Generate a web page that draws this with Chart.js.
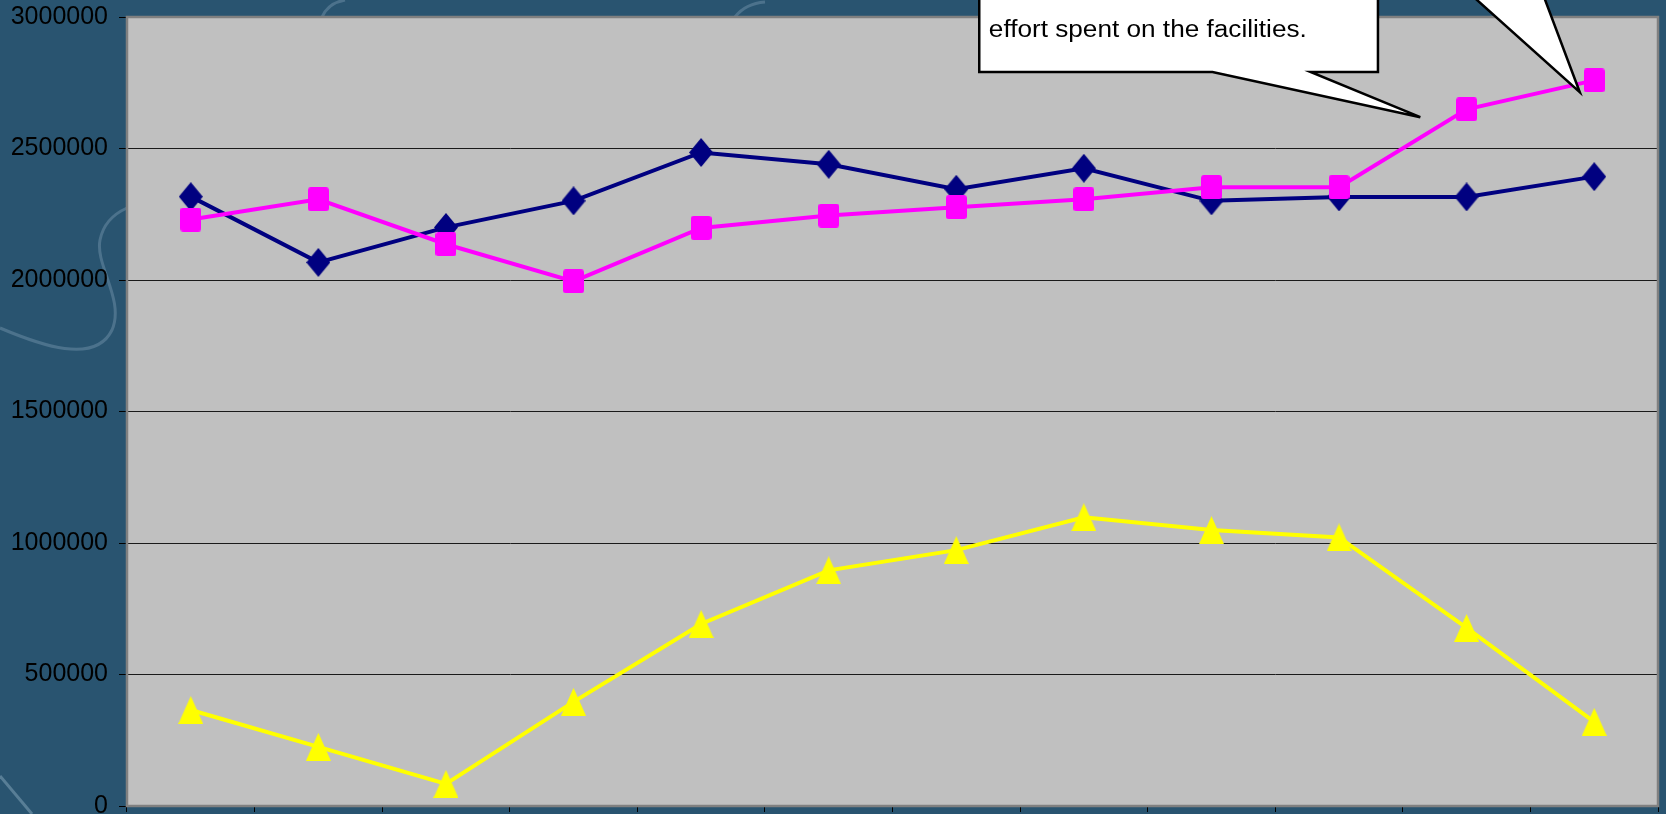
<!DOCTYPE html>
<html>
<head>
<meta charset="utf-8">
<title>Line chart</title>
<script src="https://cdn.jsdelivr.net/npm/chart.js@4.4.1/dist/chart.umd.min.js"></script>
<style>
  html, body { margin: 0; padding: 0; background: #295470; overflow: hidden; }
  #wrap { position: relative; width: 1666px; height: 814px; }
</style>
</head>
<body>
<div id="wrap"><canvas id="myChart" width="1666" height="814"></canvas></div>
<script>
const categories = ['1', '2', '3', '4', '5', '6', '7', '8', '9', '10', '11', '12'];
const series1 = [2317000, 2067000, 2200000, 2301000, 2485000, 2440000, 2345000, 2425000, 2301000, 2316000, 2316000, 2393000];
const series2 = [2230000, 2307000, 2136000, 1995000, 2198000, 2245000, 2277000, 2307000, 2353000, 2353000, 2649000, 2759000];
const series3 = [365000, 225000, 84000, 396000, 692000, 896000, 973000, 1098000, 1049000, 1021000, 677000, 320000];
const yTicks = [0, 500000, 1000000, 1500000, 2000000, 2500000, 3000000];
const noteText = 'effort spent on the facilities.';

// marker images, slightly taller than wide
function marker(w, h, color, trace) {
  let c = document.createElement('canvas');
  c.width = w;
  c.height = h;
  let g = c.getContext('2d');
  g.fillStyle = color;
  g.beginPath();
  trace(g, w, h);
  g.closePath();
  g.fill();
  return c;
}

let diamond = marker(24, 29, '#000080', function (g, w, h) {
  g.moveTo(w / 2, 0); g.lineTo(w, h / 2); g.lineTo(w / 2, h); g.lineTo(0, h / 2);
});
let square = marker(21, 24, '#FF00FF', function (g, w, h) {
  g.roundRect(0, 0, w, h, 3);
});
let triangle = marker(25, 28, '#FFFF00', function (g, w, h) {
  g.moveTo(w / 2, 0); g.lineTo(w, h); g.lineTo(0, h);
});

// dark backdrop with a few faint swirls, silver plot area
const backdrop = {
  id: 'backdrop',
  beforeDraw(chart) {
    let ctx = chart.ctx;
    let a = chart.chartArea;
    ctx.save();
    ctx.fillStyle = '#295470';
    ctx.fillRect(0, 0, chart.width, chart.height);

    ctx.strokeStyle = 'rgba(200, 225, 240, 0.22)';
    ctx.lineWidth = 3;
    ctx.beginPath();
    ctx.moveTo(0, 328);
    ctx.bezierCurveTo(40, 345, 95, 365, 112, 330);
    ctx.bezierCurveTo(125, 300, 95, 265, 100, 240);
    ctx.bezierCurveTo(104, 220, 118, 212, 127, 208);
    ctx.stroke();

    ctx.beginPath();
    ctx.moveTo(322, 17);
    ctx.bezierCurveTo(326, 8, 334, 2, 345, 0);
    ctx.stroke();
    ctx.beginPath();
    ctx.moveTo(735, 17);
    ctx.bezierCurveTo(742, 8, 752, 3, 765, 2);
    ctx.stroke();

    ctx.strokeStyle = 'rgba(200, 225, 240, 0.3)';
    ctx.beginPath();
    ctx.moveTo(0, 776);
    ctx.lineTo(32, 814);
    ctx.stroke();

    ctx.fillStyle = '#C0C0C0';
    ctx.fillRect(a.left, a.top, a.right - a.left, a.bottom - a.top);
    ctx.restore();
  },
  beforeDatasetsDraw(chart) {
    let ctx = chart.ctx;
    let a = chart.chartArea;
    ctx.save();
    ctx.strokeStyle = '#808080';
    ctx.lineWidth = 2.5;
    ctx.strokeRect(a.left, a.top, a.right - a.left, a.bottom - a.top);
    ctx.restore();
  }
};

// speech-bubble notes laid out on the chart's own scales
const notes = {
  id: 'notes',
  afterDatasetsDraw(chart) {
    let ctx = chart.ctx;
    let xs = chart.scales.x;
    let ys = chart.scales.y;
    let step = xs.getPixelForValue(1) - xs.getPixelForValue(0);
    let px = function (i) { return xs.getPixelForValue(0) + i * step; };
    let py = function (v) { return ys.getPixelForValue(v); };

    ctx.save();
    ctx.fillStyle = '#FFFFFF';
    ctx.strokeStyle = '#000000';
    ctx.lineWidth = 2.5;
    ctx.lineJoin = 'miter';

    ctx.beginPath();
    ctx.moveTo(px(6.18), py(3300000));
    ctx.lineTo(px(6.18), py(2791000));
    ctx.lineTo(px(8.008), py(2791000));
    ctx.lineTo(px(9.637), py(2619000));
    ctx.lineTo(px(8.777), py(2791000));
    ctx.lineTo(px(9.305), py(2791000));
    ctx.lineTo(px(9.305), py(3300000));
    ctx.closePath();
    ctx.fill();
    ctx.stroke();

    ctx.beginPath();
    ctx.moveTo(px(10.0), py(3100000));
    ctx.lineTo(px(10.887), py(2714000));
    ctx.lineTo(px(10.588), py(3100000));
    ctx.closePath();
    ctx.fill();
    ctx.stroke();

    ctx.fillStyle = '#000000';
    ctx.font = '23px "Liberation Sans", Arial, sans-serif';
    ctx.textBaseline = 'alphabetic';
    let tx = px(6.255);
    let w = ctx.measureText(noteText).width;
    ctx.translate(tx, py(2924000));
    ctx.scale(318 / w, 1);
    ctx.fillText(noteText, 0, 0);
    ctx.restore();
  }
};

let ctx = document.getElementById('myChart');
let myChart = new Chart(ctx, {
  type: 'line',
  data: {
    labels: categories,
    datasets: [
      {
        label: 'Series 1',
        data: series1,
        borderColor: '#000080',
        borderWidth: 4,
        pointStyle: diamond,
        order: 3
      },
      {
        label: 'Series 2',
        data: series2,
        borderColor: '#FF00FF',
        borderWidth: 4,
        pointStyle: square,
        order: 2
      },
      {
        label: 'Series 3',
        data: series3,
        borderColor: '#FFFF00',
        borderWidth: 4,
        pointStyle: triangle,
        order: 1
      }
    ]
  },
  options: {
    responsive: false,
    animation: false,
    devicePixelRatio: 1,
    tension: 0,
    layout: { padding: { left: 0, top: 17, right: 3, bottom: 0 } },
    plugins: {
      legend: { display: false },
      tooltip: { enabled: false }
    },
    scales: {
      x: {
        offset: true,
        grid: {
          offset: true,
          drawOnChartArea: false,
          tickLength: 6,
          tickColor: '#000000'
        },
        border: { display: true, color: '#808080', width: 2 },
        ticks: { display: false },
        afterFit(scale) {
          scale.height = 6;
          scale.paddingLeft = 0;
          scale.paddingRight = 0;
        }
      },
      y: {
        min: 0,
        max: 3000000,
        afterBuildTicks(scale) {
          scale.ticks = yTicks.map(function (v) { return { value: v }; });
        },
        grid: {
          color: '#1a1a1a',
          lineWidth: 1,
          tickLength: 8,
          tickColor: '#000000'
        },
        border: { display: true, color: '#808080', width: 2 },
        ticks: {
          color: '#000000',
          padding: 11,
          font: { family: '"Liberation Sans", Arial, sans-serif', size: 25 },
          callback(v) { return String(v); }
        },
        afterFit(scale) {
          scale.width = 127;
          scale.paddingTop = 0;
          scale.paddingBottom = 0;
        }
      }
    }
  },
  plugins: [backdrop, notes]
});
</script>
</body>
</html>
